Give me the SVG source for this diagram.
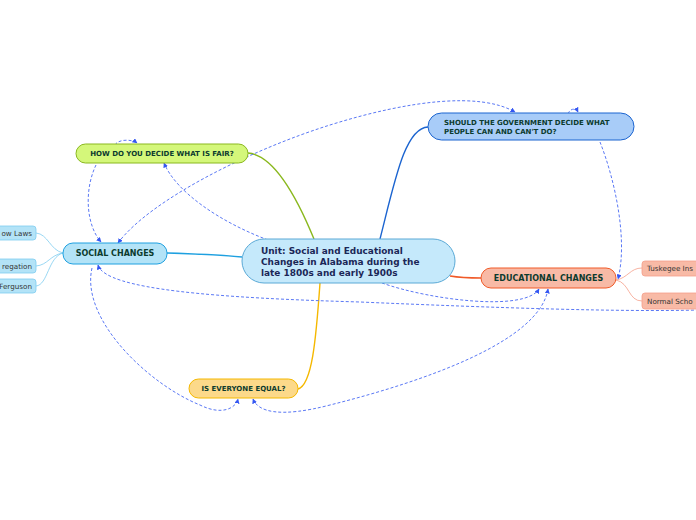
<svg xmlns="http://www.w3.org/2000/svg" width="696" height="520" viewBox="0 0 696 520">
<defs>
<marker id="arr" viewBox="0 0 10 10" refX="9" refY="5" markerWidth="5" markerHeight="5" orient="auto-start-reverse" markerUnits="userSpaceOnUse">
<path d="M0,0 L10,5 L0,10 z" fill="#3557f2"/>
</marker>
<style>
.t{font-family:"DejaVu Sans","Verdana",sans-serif;font-weight:bold;fill:#0c3b2e}
.c{font-family:"DejaVu Sans","Verdana",sans-serif;font-weight:bold;fill:#1b2757;font-size:8.95px}
.s{font-family:"DejaVu Sans","Verdana",sans-serif;fill:#333;font-size:7.2px}
.rel{fill:none;stroke:#5a78f5;stroke-width:1;stroke-dasharray:3 2}
.br{fill:none;stroke-width:1.4}
.sb{fill:none;stroke-width:0.8}
</style>
</defs>
<rect width="696" height="520" fill="#ffffff"/>
<g id="connectors">
<path class="br" stroke="#1ea0e0" d="M167,253 C 200,254 220,255 242,257"/>
<path class="br" stroke="#8ab81e" d="M248,153 C 275,155 298,200 314,239"/>
<path class="br" stroke="#1b64d0" d="M380,239 C 395,180 405,128 428,127"/>
<path class="br" stroke="#f05a28" d="M450,276 C 462,278 470,278 481,278"/>
<path class="br" stroke="#f5b800" d="M320,283 C 316,340 312,385 298,389"/>
<path class="sb" stroke="#7fcdf0" d="M63,253 C 50,250 48,234 36,233"/>
<path class="sb" stroke="#7fcdf0" d="M63,253 C 50,255 48,265 36,266"/>
<path class="sb" stroke="#7fcdf0" d="M63,253 C 48,257 48,285 36,286"/>
<path class="sb" stroke="#f5a08a" d="M616,280 C 628,278 630,268 642,268"/>
<path class="sb" stroke="#f5a08a" d="M616,280 C 630,283 628,301 642,301"/>
<path class="rel" marker-end="url(#arr)" d="M96,165 C 84,190 86,225 101,242"/>
<path class="rel" marker-end="url(#arr)" d="M115,145 C 118,139 132,139 137,143"/>
<path class="rel" marker-end="url(#arr)" d="M268,240 C 220,222 176,192 164,163"/>
<path class="rel" marker-start="url(#arr)" marker-end="url(#arr)" d="M118,243 C 150,200 250,150 330,125 C 410,100 480,92 515,112"/>
<path class="rel" marker-end="url(#arr)" d="M568,114 C 570,108 576,108 578,112"/>
<path class="rel" marker-end="url(#arr)" d="M600,142 C 615,180 628,240 618,279"/>
<path class="rel" marker-end="url(#arr)" d="M382,283 C 430,300 525,312 539,289"/>
<path class="rel" marker-start="url(#arr)" d="M98,265 C 105,290 220,298 360,302 C 500,308 620,312 700,310"/>
<path class="rel" marker-end="url(#arr)" d="M92,268 C 80,320 150,385 200,405 C 222,416 236,408 238,399"/>
<path class="rel" marker-start="url(#arr)" marker-end="url(#arr)" d="M548,289 C 540,340 430,380 330,405 C 280,418 258,412 253,399"/>
</g>
<g id="central">
<rect x="242" y="239" width="213" height="44" rx="22" fill="#c5e9fb" stroke="#5aa9d6" stroke-width="1"/>
<text class="c" x="261" y="253.5">Unit: Social and Educational</text>
<text class="c" x="261" y="264.5">Changes in Alabama during the</text>
<text class="c" x="261" y="275.5">late 1800s and early 1900s</text>
</g>
<g id="social">
<rect x="63" y="243" width="104" height="21" rx="10" fill="#b3e3f7" stroke="#1ea0e0" stroke-width="1"/>
<text class="t" x="115" y="256" font-size="8" text-anchor="middle">SOCIAL CHANGES</text>
</g>
<g id="fair">
<rect x="76" y="144" width="172" height="19" rx="9.5" fill="#d4f77a" stroke="#8ab81e" stroke-width="1"/>
<text class="t" x="162" y="156" font-size="7" text-anchor="middle">HOW DO YOU DECIDE WHAT IS FAIR?</text>
</g>
<g id="government">
<rect x="428" y="113" width="206" height="27" rx="13.5" fill="#a8ccf8" stroke="#1b64d0" stroke-width="1"/>
<text class="t" x="444" y="125" font-size="7">SHOULD THE GOVERNMENT DECIDE WHAT</text>
<text class="t" x="444" y="133.5" font-size="7">PEOPLE CAN AND CAN'T DO?</text>
</g>
<g id="educational">
<rect x="481" y="268" width="135" height="20" rx="10" fill="#f8baa6" stroke="#f05a28" stroke-width="1"/>
<text class="t" x="548.5" y="281" font-size="8" text-anchor="middle">EDUCATIONAL CHANGES</text>
</g>
<g id="equal">
<rect x="189" y="379" width="109" height="19" rx="9.5" fill="#fcd98a" stroke="#f5b800" stroke-width="1"/>
<text class="t" x="243.5" y="391" font-size="7" text-anchor="middle">IS EVERYONE EQUAL?</text>
</g>
<g id="sub-jim">
<rect x="-20" y="226" width="56" height="14" rx="3" fill="#b3e3f7" stroke="#7fcdf0" stroke-width="0.8"/>
<text class="s" x="32" y="235.5" text-anchor="end">ow Laws</text>
</g>
<g id="sub-seg">
<rect x="-20" y="259" width="56" height="14" rx="3" fill="#b3e3f7" stroke="#7fcdf0" stroke-width="0.8"/>
<text class="s" x="32" y="268.5" text-anchor="end">regation</text>
</g>
<g id="sub-plessy">
<rect x="-20" y="279" width="56" height="14" rx="3" fill="#b3e3f7" stroke="#7fcdf0" stroke-width="0.8"/>
<text class="s" x="32" y="288.5" text-anchor="end">Ferguson</text>
</g>
<g id="sub-tuskegee">
<rect x="642" y="261" width="70" height="15" rx="3" fill="#f8baa6" stroke="#f5a08a" stroke-width="0.8"/>
<text class="s" x="647" y="271">Tuskegee Ins</text>
</g>
<g id="sub-normal">
<rect x="642" y="293" width="70" height="16" rx="3" fill="#f8baa6" stroke="#f5a08a" stroke-width="0.8"/>
<text class="s" x="647" y="303.5">Normal Scho</text>
</g>
</svg>
